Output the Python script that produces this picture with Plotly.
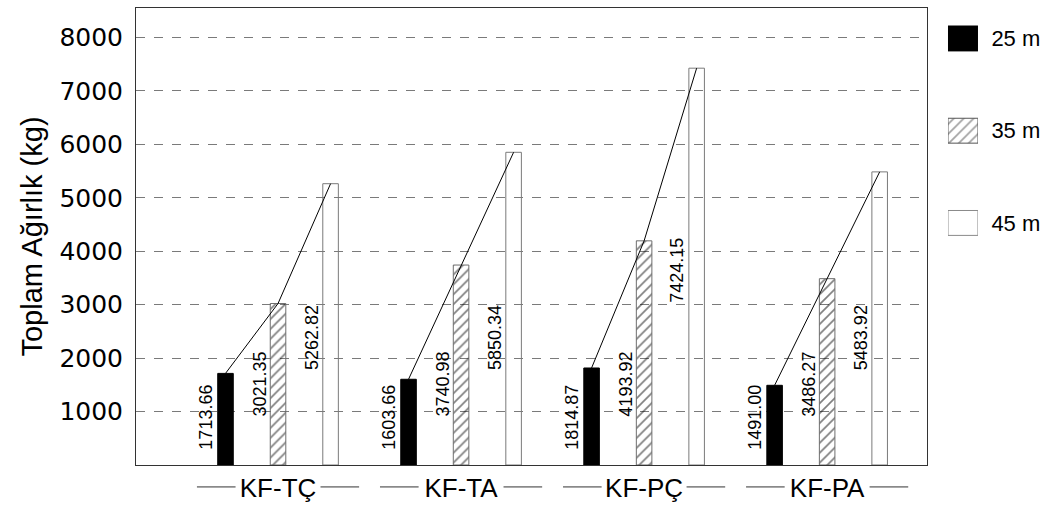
import plotly.graph_objects as go

# ---- data -------------------------------------------------------------
categories = ["KF-TÇ", "KF-TA", "KF-PÇ", "KF-PA"]
series_names = ["25 m", "35 m", "45 m"]
weight_25 = [1713.66, 1603.66, 1814.87, 1491.00]
weight_35 = [3021.35, 3740.98, 4193.92, 3486.27]
weight_45 = [5262.82, 5850.34, 7424.15, 5483.92]
y_ticks = [1000, 2000, 3000, 4000, 5000, 6000, 7000, 8000]

series_values = [weight_25, weight_35, weight_45]

# ---- layout constants -------------------------------------------------
BAR_STEP = 0.287        # distance between bars inside a group (axis units)
BAR_WIDTH = 0.085
X_RANGE = [-0.776, 3.546]
Y_RANGE = [0, 8550]
MAIN_DOMAIN = [0, 0.878]
LABEL_FLOOR = [250, 860, 1740]          # where the rotated value labels start
LABEL_FLOOR_OVERRIDE = {(2, 2): 3000}   # (series, group) -> start

HATCH = dict(shape="/", fgcolor="#000000", size=7, solidity=0.24)

styles = [
    dict(color="black", line=dict(color="black", width=1)),
    dict(color="rgba(0,0,0,0)", line=dict(color="#6e6e6e", width=1),
         pattern=dict(HATCH, bgcolor="rgba(0,0,0,0)")),
    dict(color="rgba(0,0,0,0)", line=dict(color="#7a7a7a", width=1)),
]
legend_styles = [
    dict(color="black", line=dict(color="black", width=1)),
    dict(color="white", line=dict(color="#555555", width=1)),
    dict(color="white", line=dict(color="#8a8a8a", width=1)),
]

fig = go.Figure()

group_idx = list(range(len(categories)))

# bars
for s, (name, vals) in enumerate(zip(series_names, series_values)):
    xs = [g + (s - 1) * BAR_STEP for g in group_idx]
    fig.add_trace(go.Bar(x=xs, y=vals, width=BAR_WIDTH, name=name,
                         marker=styles[s], showlegend=False,
                         hoverinfo="y"))

# connecting lines across each group's bar tops
for g in group_idx:
    xs = [g + (s - 1) * BAR_STEP for s in range(3)]
    ys = [series_values[s][g] for s in range(3)]
    fig.add_trace(go.Scatter(x=xs, y=ys, mode="lines",
                             line=dict(color="black", width=1),
                             showlegend=False, hoverinfo="skip"))

# rotated value labels
annotations = []
for s, vals in enumerate(series_values):
    for g, v in enumerate(vals):
        floor = LABEL_FLOOR_OVERRIDE.get((s, g), LABEL_FLOOR[s])
        annotations.append(dict(
            x=g + (s - 1) * BAR_STEP, y=floor, xref="x", yref="y",
            text=f"{v:.2f}", textangle=-90, showarrow=False,
            xanchor="center", yanchor="bottom", xshift=-19,
            font=dict(family="Liberation Sans, Arial", size=18, color="black"),
        ))

# thin rules on both sides of each category label
shapes = []
for g in group_idx:
    for a, b in [(-0.443, -0.232), (0.232, 0.443)]:
        shapes.append(dict(type="line", xref="x", yref="paper",
                           x0=g + a, x1=g + b, y0=-0.048, y1=-0.048,
                           line=dict(color="#333333", width=1)))

# legend swatches drawn as a tiny horizontal bar chart
fig.add_trace(go.Bar(x=[1, 1, 1], y=series_names, orientation="h",
                     width=0.27, xaxis="x2", yaxis="y2", showlegend=False,
                     hoverinfo="skip",
                     marker=dict(color=[st["color"] for st in legend_styles],
                                 line=dict(color=[st["line"]["color"] for st in legend_styles],
                                           width=1),
                                 pattern=dict(shape=["", "/", ""],
                                              fgcolor="#000000", size=7,
                                              solidity=0.24))))

fig.update_layout(
    width=1057, height=506,
    margin=dict(l=136, r=20, t=8, b=41),
    paper_bgcolor="white", plot_bgcolor="white",
    barmode="overlay",
    showlegend=False,
    annotations=annotations,
    shapes=shapes,
    xaxis=dict(domain=MAIN_DOMAIN, range=X_RANGE, tickvals=group_idx,
               ticktext=categories, showgrid=False, zeroline=False,
               showline=True, mirror=True, linecolor="#333333", linewidth=1,
               ticks="", automargin=False,
               tickfont=dict(family="Liberation Sans, Arial", size=26,
                             color="black")),
    yaxis=dict(range=Y_RANGE, tickvals=y_ticks, showgrid=True,
               gridcolor="#7a7a7a", griddash="dash", gridwidth=1,
               zeroline=False, showline=True, mirror=True,
               linecolor="#333333", linewidth=1, automargin=False,
               ticks="outside", ticklen=7, tickcolor="rgba(0,0,0,0)",
               tickfont=dict(family="DejaVu Sans", size=25, color="black"),
               title=dict(text="Toplam Ağırlık (kg)", standoff=8,
                          font=dict(family="Liberation Sans, Arial", size=29,
                                    color="black"))),
    xaxis2=dict(domain=[0.9012, 0.9345], range=[0, 1], anchor="y2",
                showgrid=False, zeroline=False, showline=False,
                showticklabels=False, ticks="", automargin=False),
    yaxis2=dict(domain=[0.4792, 0.9838], range=[2.25, -0.25], anchor="x2",
                side="right", showgrid=False, zeroline=False, showline=False,
                ticks="outside", ticklen=8, tickcolor="rgba(0,0,0,0)",
                automargin=False,
                tickfont=dict(family="Liberation Sans, Arial", size=22,
                              color="black")),
)

fig.write_html("out.html")
